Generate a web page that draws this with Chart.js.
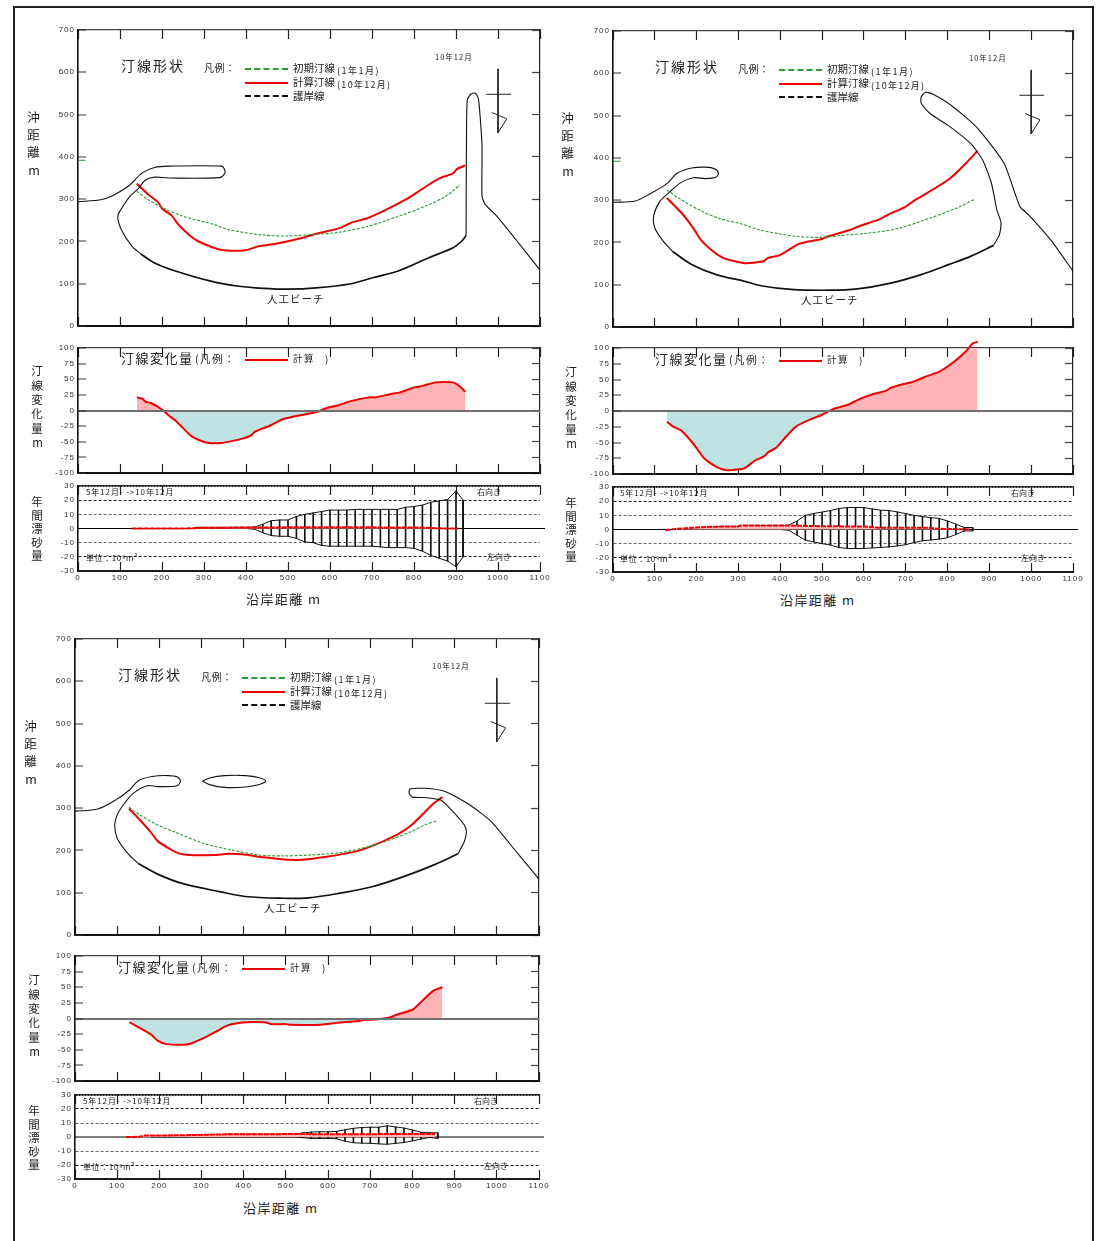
<!DOCTYPE html>
<html lang="ja">
<head>
<meta charset="utf-8">
<title>汀線形状</title>
<script src="https://cdn.jsdelivr.net/npm/chart.js"></script>
<style>
    html, body { margin: 0; padding: 0; background: #fff; overflow: hidden; }
    #page { position: relative; width: 1104px; height: 1241px; overflow: hidden; }
    #frame { position: absolute; left: 13px; top: 6px; width: 1077px; height: 1260px; border: 2px solid #222; }
    canvas { position: absolute; }
    .t { position: absolute; white-space: nowrap; color: #222; transform: translateY(-50%); line-height: 1;
         font-family: "Noto Sans CJK JP", "Liberation Sans", sans-serif; z-index: 5; }
    .s { position: absolute; height: 0; z-index: 5; }
</style>
</head>
<body>
<div id="page"><div id="frame"></div></div>
<script>
// axis ticks
const distanceTicks = [0, 100, 200, 300, 400, 500, 600, 700, 800, 900, 1000, 1100];
const offshoreTicks = [0, 100, 200, 300, 400, 500, 600, 700];
const changeTicks = [-100, -75, -50, -25, 0, 25, 50, 75, 100];
const transportTicks = [-30, -20, -10, 0, 10, 20, 30];

// north arrow, same in every plan
const arrowStem = [[1000, 608], [1000, 457]];
const arrowBar = [[972, 548], [1031, 548]];
const arrowHead = [[985, 505], [1021, 490], [1000, 457]];
const initialStub = [[0, 392], [18, 392]];

// case A
const caseAWest = [[0, 294], [57, 299], [90, 312], [124, 334], [153, 362], [182, 375], [216, 378], [341, 378], [349, 370], [349, 360], [337, 351], [216, 350], [182, 352], [159, 344], [145, 326], [124, 307], [107, 283], [95, 260], [103, 228], [128, 189], [149, 171]];
const caseARevetment = [[149, 171], [182, 149], [232, 130], [316, 106], [383, 94], [441, 89], [500, 87], [567, 90], [650, 100], [701, 114], [767, 132], [834, 161], [893, 185], [914, 201], [924, 214]];
const caseAEast = [[924, 214], [925, 456], [927, 535], [935, 548], [945, 551], [953, 539], [958, 488], [962, 425], [962, 307], [970, 287], [997, 260], [1043, 204], [1100, 132]];
const caseAInitial = [[140, 319], [165, 300], [207, 277], [249, 260], [324, 240], [358, 228], [441, 215], [500, 213], [567, 217], [617, 221], [684, 234], [759, 258], [826, 283], [876, 307], [910, 334]];
const caseAComputed = [[140, 337], [165, 313], [190, 293], [202, 276], [223, 261], [239, 240], [264, 216], [285, 201], [323, 185], [348, 179], [398, 179], [432, 189], [474, 195], [533, 208], [567, 218], [625, 232], [650, 244], [692, 256], [734, 275], [784, 301], [818, 323], [860, 349], [893, 361], [902, 371], [922, 380]];
const caseAChange = [[140, 21], [153, 19], [161, 14], [174, 12], [199, 2], [216, -8], [232, -16], [241, -22], [270, -41], [291, -48], [312, -52], [341, -52], [366, -49], [391, -45], [412, -40], [421, -34], [458, -24], [487, -14], [542, -6], [571, -2], [592, 4], [617, 8], [650, 15], [692, 21], [709, 21], [742, 26], [767, 29], [801, 37], [818, 39], [851, 45], [893, 45], [910, 38], [922, 30]];
const caseAStations = [280, 300, 320, 340, 360, 380, 400, 420, 440, 460, 480, 500, 520, 540, 560, 580, 600, 620, 640, 660, 680, 700, 720, 740, 760, 780, 800, 820, 840, 860, 880, 900, 917];
const caseARight = [0.8, 0.8, 0.8, 0.8, 0.8, 0.8, 0.8, 1, 3, 5.5, 6, 6, 8.5, 10, 11, 12, 13, 13, 13, 13.5, 13.5, 13.5, 13.5, 13.5, 13.5, 15, 15.5, 16.5, 18.5, 19.5, 20.5, 26.5, 20];
const caseALeft = [0, 0, 0, 0, 0, 0, 0, -0.5, -3, -5, -5.5, -5.5, -7, -9.5, -10, -12, -12.5, -12.5, -12.5, -12.5, -12.5, -12.5, -13, -13.5, -13.5, -13.5, -14, -16, -19, -21, -23, -27, -20];
const caseANet = [[128, 0], [280, 0.1], [285, 0.5], [420, 0.7], [500, 0.8], [700, 0.8], [830, 0.6], [850, 0.1], [905, 0]];

// case B
const caseBWest = [[0, 295], [53, 298], [87, 314], [129, 339], [154, 364], [188, 376], [222, 378], [243, 374], [252, 364], [246, 354], [222, 351], [192, 353], [163, 342], [133, 317], [112, 297], [97, 262], [100, 234], [120, 203], [142, 179]];
const caseBRevetment = [[142, 179], [188, 148], [247, 124], [315, 108], [357, 97], [425, 89], [517, 87], [585, 90], [661, 103], [737, 124], [804, 148], [855, 167], [910, 193]];
const caseBEast = [[910, 193], [924, 218], [928, 246], [918, 277], [905, 340], [884, 395], [855, 434], [804, 475], [758, 505], [737, 529], [737, 544], [747, 555], [762, 552], [813, 521], [872, 470], [935, 387], [973, 285], [994, 265], [1049, 203], [1100, 132]];
const caseBInitial = [[129, 324], [163, 301], [214, 273], [256, 256], [306, 244], [349, 230], [399, 220], [441, 214], [500, 212], [551, 217], [610, 222], [678, 232], [754, 256], [821, 281], [863, 301]];
const caseBComputed = [[129, 305], [167, 266], [192, 234], [209, 207], [239, 179], [264, 163], [289, 156], [315, 151], [336, 152], [361, 156], [370, 163], [399, 170], [441, 195], [467, 202], [500, 208], [513, 214], [568, 230], [593, 240], [636, 254], [661, 267], [699, 284], [720, 299], [745, 313], [804, 350], [834, 377], [872, 417]];
const caseBChange = [[129, -17], [142, -24], [163, -31], [192, -52], [218, -75], [251, -90], [272, -94], [293, -93], [314, -91], [339, -79], [361, -72], [370, -66], [391, -58], [412, -42], [437, -25], [463, -16], [500, -6], [526, 3], [560, 9.5], [593, 20], [623, 27], [652, 32], [665, 37], [695, 43], [716, 46], [745, 54], [779, 62], [813, 77], [843, 94], [860, 107], [872, 110]];
const caseBStations = [240, 260, 280, 300, 320, 340, 360, 380, 400, 420, 440, 460, 480, 500, 520, 540, 560, 580, 600, 620, 640, 660, 680, 700, 720, 740, 760, 780, 800, 820, 840, 860];
const caseBRight = [2, 2, 2, 2.1, 2.8, 2.8, 2.8, 2.8, 2.8, 3, 6, 10, 11.3, 12.3, 13.4, 14.8, 15.5, 15.5, 15.5, 14.5, 13.6, 13.4, 12.4, 11.2, 10, 9.1, 8.4, 7.8, 6, 3.8, 1.4, 1.4];
const caseBLeft = [0, 0, 0, 0, 0, 0, 0, 0, 0, -0.5, -4, -7.5, -8.8, -10, -11, -12.7, -13.4, -13.4, -13.4, -13, -12.7, -12.3, -11.6, -10.7, -9.2, -8, -7.4, -6.8, -5.8, -3.5, -1, -1];
const caseBNet = [[125, -0.5], [142, 0.2], [188, 1.2], [235, 2], [298, 2.1], [306, 2.8], [425, 2.8], [484, 2.4], [610, 2], [636, 1.2], [754, 1.2], [779, 0.5], [855, 0]];

// case C
const caseCWest = [[0, 293], [54, 298], [96, 319], [129, 343], [150, 365], [183, 375], [221, 377], [242, 374], [250, 364], [242, 353], [196, 351], [171, 353], [138, 335], [117, 311], [100, 284], [94, 260], [100, 229], [125, 193], [150, 169]];
const caseCRevetment = [[150, 169], [196, 144], [254, 122], [346, 102], [404, 91], [488, 87], [554, 88], [629, 99], [704, 114], [779, 138], [854, 167], [908, 192]];
const caseCEast = [[908, 192], [923, 221], [928, 244], [923, 260], [896, 292], [867, 319], [829, 325], [800, 326], [792, 335], [794, 345], [829, 347], [879, 339], [937, 307], [987, 268], [1046, 197], [1100, 132]];
const caseCBreakwater = [[302, 364], [321, 372], [354, 377], [404, 377], [437, 372], [452, 364], [437, 356], [404, 350], [354, 349], [321, 355], [302, 364]];
const caseCInitial = [[128, 302], [154, 284], [196, 260], [238, 243], [304, 217], [371, 201], [438, 189], [496, 187], [554, 189], [629, 195], [696, 209], [746, 225], [796, 244], [829, 260], [858, 270]];
const caseCComputed = [[128, 299], [154, 272], [179, 244], [196, 222], [229, 201], [246, 193], [271, 189], [329, 189], [363, 192], [396, 191], [446, 184], [488, 179], [538, 178], [596, 185], [671, 199], [729, 221], [767, 239], [800, 262], [850, 311], [871, 326]];
const caseCChange = [[129, -6], [179, -25], [196, -35.5], [217, -41], [258, -42], [275, -40], [312, -29], [337, -20], [362, -11], [404, -6], [450, -6], [467, -9], [500, -9], [512, -10], [583, -10], [621, -7], [671, -4], [687, -2], [712, -1.6], [746, 1.6], [762, 6], [800, 14], [821, 27], [850, 44.5], [871, 50]];
const caseCStations = [180, 200, 220, 240, 260, 280, 300, 320, 340, 360, 380, 400, 420, 440, 460, 480, 500, 520, 540, 560, 580, 600, 620, 640, 660, 680, 700, 720, 740, 760, 780, 800, 820, 840, 860];
const caseCRight = [1, 1, 1, 1, 1, 1.5, 1.5, 1.5, 1.5, 2, 2, 2, 2, 2, 2, 2, 2, 2, 2.9, 3.5, 3.8, 3.7, 4, 5.2, 6.2, 6.8, 7, 7, 8, 7.2, 6.4, 5, 3.4, 3, 3];
const caseCLeft = [0, 0, 0, 0, 0, 0, 0, 0, 0, 0, 0, 0, 0, 0, 0, 0, 0, 0, -0.5, -1, -1, -1, -1.3, -3, -4.1, -4.4, -4.5, -4.9, -5.2, -4.5, -4, -2.8, -1.5, -0.3, -1];
const caseCNet = [[121, 0], [154, 0.2], [163, 1], [246, 1.2], [362, 1.9], [529, 2.1], [654, 1.9], [737, 2.1], [854, 2.1]];

const PINK = '#ffb4b8';
const TEAL = '#bfe2e2';
const RED = '#f00000';
const GREEN = '#2c9a35';
const FONT = '"Liberation Sans", sans-serif';
const page = document.getElementById('page');

// letter spaced tick labels
const spacing = {
    id: 'spacing',
    beforeDraw(chart) { chart.ctx.letterSpacing = '1px'; }
};

function line(data, color, width, extra) {
    return Object.assign({ type: 'line', data, borderColor: color, borderWidth: width, pointRadius: 0, fill: false, tension: 0, clip: false, order: 0 }, extra);
}

function axes(ticksX, ticksY, minY, maxY, opt) {
    const setTicks = list => s => { s.ticks = list.map(value => ({ value })); };
    // pin the plot area: fixed axis size and no extra room for half labels
    const fixed = size => s => {
        if (s.isHorizontal()) s.height = size; else s.width = size;
        s.paddingLeft = s.paddingRight = s.paddingTop = s.paddingBottom = 0;
    };
    const gridColor = opt.gridColor || (() => 'rgba(0,0,0,0)');
    const gridWidth = opt.gridWidth || (() => 0);
    const gridZ = opt.gridZ || 0;
    const base = { type: 'linear', offset: false };
    const markX = { drawOnChartArea: false, drawTicks: true, tickLength: -9, tickColor: '#222', tickWidth: 1.2, offset: false };
    return {
        x: Object.assign({}, base, {
            min: 0, max: 1100, position: 'bottom',
            afterBuildTicks: setTicks(ticksX), afterFit: fixed(opt.labels ? 14 : 0),
            grid: markX,
            border: { color: '#111', width: 2 },
            ticks: { display: !!opt.labels, autoSkip: false, maxRotation: 0, padding: 11, color: '#333', font: { size: 8, family: FONT }, callback: v => String(v) }
        }),
        x2: Object.assign({}, base, {
            min: 0, max: 1100, position: 'top',
            afterBuildTicks: setTicks(ticksX), afterFit: fixed(0),
            grid: markX,
            border: { color: '#444', width: 1.2 },
            ticks: { display: false, autoSkip: false }
        }),
        y: Object.assign({}, base, {
            min: minY, max: maxY, position: 'left',
            afterBuildTicks: setTicks(ticksY), afterFit: fixed(40),
            grid: { drawOnChartArea: true, drawTicks: true, tickLength: -8, tickColor: opt.noMarks ? 'rgba(0,0,0,0)' : '#333', tickWidth: 1, color: gridColor, lineWidth: gridWidth, z: gridZ },
            border: { color: '#111', width: 1.6, dash: opt.gridDash || [], z: gridZ },
            ticks: { autoSkip: false, padding: 11, color: '#333', font: { size: 8, family: FONT }, callback: v => String(v) }
        }),
        y2: Object.assign({}, base, {
            min: minY, max: maxY, position: 'right',
            afterBuildTicks: setTicks(ticksY), afterFit: fixed(0),
            grid: { drawOnChartArea: false, drawTicks: !opt.noMarks, tickLength: -8, tickColor: '#444', tickWidth: 1.2 },
            border: { display: !opt.noRight, color: '#222', width: 1.2 },
            ticks: { display: false, autoSkip: false }
        })
    };
}

function addChart(left, right, top, bottom, datasets, scales, labels) {
    const canvas = document.createElement('canvas');
    const padTop = 12, padRight = 30, extra = labels ? 14 : 0;
    canvas.width = right - left + 40 + padRight;
    canvas.height = bottom - top + padTop + extra + 2;
    canvas.style.left = (left - 40) + 'px';
    canvas.style.top = (top - padTop) + 'px';
    page.appendChild(canvas);
    return new Chart(canvas.getContext('2d'), {
        type: 'line',
        data: { datasets },
        plugins: [spacing],
        options: {
            responsive: false, animation: false, events: [],
            layout: { autoPadding: false, padding: { left: 0, top: padTop, right: padRight, bottom: 2 } },
            plugins: { legend: { display: false }, tooltip: { enabled: false } },
            scales
        }
    });
}

function planChart(box, west, revetment, east, initial, computed, islands, withStub) {
    const datasets = [
        line(west, '#111', 1.1, { tension: 0.3 }),
        line(revetment, '#111', 1.7, { tension: 0.35 }),
        line(east, '#111', 1.1, { tension: 0.2 }),
        line(initial, GREEN, 1.1, { borderDash: [3, 1.5], tension: 0.3 }),
        line(computed, RED, 2, { tension: 0.2 }),
        line(arrowStem, '#222', 1),
        line(arrowBar, '#222', 1),
        line(arrowHead, '#222', 1)
    ];
    islands.forEach(d => datasets.push(line(d, '#111', 1.1, { tension: 0.4 })));
    if (withStub) datasets.push(line(initialStub, GREEN, 1));
    addChart(box.left, box.right, box.top, box.bottom, datasets, axes(distanceTicks, offshoreTicks, 0, 700, {}), false);
}

function changeChart(box, change) {
    const ds = line(change, RED, 2, { tension: 0.2, fill: { target: 'origin', above: PINK, below: TEAL } });
    const scales = axes(distanceTicks, changeTicks, -100, 100, {
        gridColor: c => (c.tick && c.tick.value === 0 ? '#707070' : 'rgba(0,0,0,0)'),
        gridWidth: c => (c.tick && c.tick.value === 0 ? 2 : 0),
        gridZ: 1
    });
    addChart(box.left, box.right, box.top, box.bottom, [ds], scales, false);
}

function transportChart(box, stations, right, left, net) {
    const hatch = stations.map((x, i) => ({ x, y: [left[i], right[i]] }));
    const envelope = stations.map((x, i) => [x, right[i]]);
    for (let i = stations.length - 1; i >= 0; i--) envelope.push([stations[i], left[i]]);
    const datasets = [
        line(net, RED, 2, { borderDash: [5, 1], fill: { target: 'origin', above: PINK, below: PINK }, order: 0 }),
        line(envelope, '#111', 1, { order: 1 }),
        { type: 'bar', data: hatch, backgroundColor: '#111', borderWidth: 0, barThickness: 1, grouped: false, order: 2 },
        line([[0, 0], [1112, 0]], '#000', 1.2, { order: 3 })
    ];
    const scales = axes(distanceTicks, transportTicks, -30, 30, {
        labels: true, noMarks: true, noRight: true,
        gridColor: c => {
            const v = c.tick ? Math.abs(c.tick.value) : 0;
            return v === 10 ? '#666' : (v === 0 ? 'rgba(0,0,0,0)' : '#222');
        },
        gridWidth: c => (c.tick && Math.abs(c.tick.value) === 30 ? 2 : 1),
        gridDash: c => (c.tick && Math.abs(c.tick.value) === 30 ? [2, 1] : [3, 2])
    });
    addChart(box.left, box.right, box.top, box.bottom, datasets, scales, true);
}

// real text and legend samples, placed over the charts
function text(str, x, y, size, spaced, family) {
    const d = document.createElement('div');
    d.className = 't';
    d.textContent = str;
    d.style.left = x + 'px';
    d.style.top = y + 'px';
    d.style.fontSize = size + 'px';
    if (spaced) d.style.letterSpacing = spaced + 'px';
    if (family) d.style.fontFamily = family;
    page.appendChild(d);
}

function sample(x, y, w, color, height, style) {
    const d = document.createElement('div');
    d.className = 's';
    d.style.left = x + 'px';
    d.style.top = y + 'px';
    d.style.width = w + 'px';
    d.style.borderTop = height + 'px ' + style + ' ' + color;
    page.appendChild(d);
}

function stacked(chars, x, ys, size) {
    chars.forEach((c, i) => {
        const d = c === 'm' ? 1 : 0;
        text(c, x - size / 2 + d * 1, ys[i], size);
    });
}

function captions(dx, dy) {
    text('汀線形状', 121 + dx, 65 + dy, 14, 2);
    text('凡例：', 204 + dx, 67.5 + dy, 10, 0.5);
    sample(245 + dx, 68 + dy, 43, GREEN, 2, 'dashed');
    sample(245 + dx, 81.5 + dy, 43, RED, 2, 'solid');
    sample(245 + dx, 95 + dy, 43, '#111', 2, 'dashed');
    text('初期汀線', 293 + dx, 68 + dy, 10.5);
    text('(1年1月)', 337 + dx, 69.5 + dy, 9, 1.5);
    text('計算汀線', 293 + dx, 82 + dy, 10.5);
    text('(10年12月)', 337 + dx, 83.5 + dy, 9, 1.3);
    text('護岸線', 293 + dx, 96 + dy, 10.5);
    text('10年12月', 435 + dx, 56.5 + dy, 7.5, 1);
    text('人工ビーチ', 267 + dx, 299 + dy, 10.5, 1);
    stacked(['沖', '距', '離', 'm'], 33.5 + dx, [117, 135, 152, 170].map(v => v + dy), 12.5);

    stacked(['汀', '線', '変', '化', '量', 'm'], 37 + dx, [371, 386, 400, 414, 429, 443].map(v => v + dy), 11.5);
    text('汀線変化量', 121 + dx, 357 + dy, 13, 1.5);
    text('(凡例：', 195 + dx, 358.5 + dy, 10.5, 1.5);
    sample(245 + dx, 359 + dy, 43, RED, 2, 'solid');
    text('計算', 293 + dx, 359 + dy, 9.5, 1.5);
    text(')', 325 + dx, 359 + dy, 10);

    stacked(['年', '間', '漂', '砂', '量'], 37 + dx, [502, 516, 529, 543, 556].map(v => v + dy), 11.5);
    text('5年12月- ->10年12月', 86 + dx, 491.5 + dy, 8, 0.9);
    text('右向き', 477 + dx, 492 + dy, 8);
    text('左向き', 487 + dx, 557 + dy, 8);
    text('単位：10⁹m³', 86 + dx, 558 + dy, 8, 0.6);
    text('沿岸距離 m', 246 + dx, 598 + dy, 13, 1.4);
}

const planA = { left: 78, right: 540, top: 30, bottom: 326 };
const deltaA = { left: 78, right: 540, top: 348, bottom: 473 };
const driftA = { left: 78, right: 540, top: 486, bottom: 571 };
planChart(planA, caseAWest, caseARevetment, caseAEast, caseAInitial, caseAComputed, [], true);
changeChart(deltaA, caseAChange);
transportChart(driftA, caseAStations, caseARight, caseALeft, caseANet);
captions(0, 0);

const planB = { left: 613, right: 1073, top: 31, bottom: 327 };
const deltaB = { left: 613, right: 1073, top: 348, bottom: 474 };
const driftB = { left: 613, right: 1073, top: 487, bottom: 572 };
planChart(planB, caseBWest, caseBRevetment, caseBEast, caseBInitial, caseBComputed, [], true);
changeChart(deltaB, caseBChange);
transportChart(driftB, caseBStations, caseBRight, caseBLeft, caseBNet);
captions(534, 1);

const planC = { left: 75, right: 539, top: 639, bottom: 935 };
const deltaC = { left: 75, right: 539, top: 956, bottom: 1081 };
const driftC = { left: 75, right: 539, top: 1095, bottom: 1179 };
planChart(planC, caseCWest, caseCRevetment, caseCEast, caseCInitial, caseCComputed, [caseCBreakwater], false);
changeChart(deltaC, caseCChange);
transportChart(driftC, caseCStations, caseCRight, caseCLeft, caseCNet);
captions(-3, 609);
</script>
</body>
</html>
